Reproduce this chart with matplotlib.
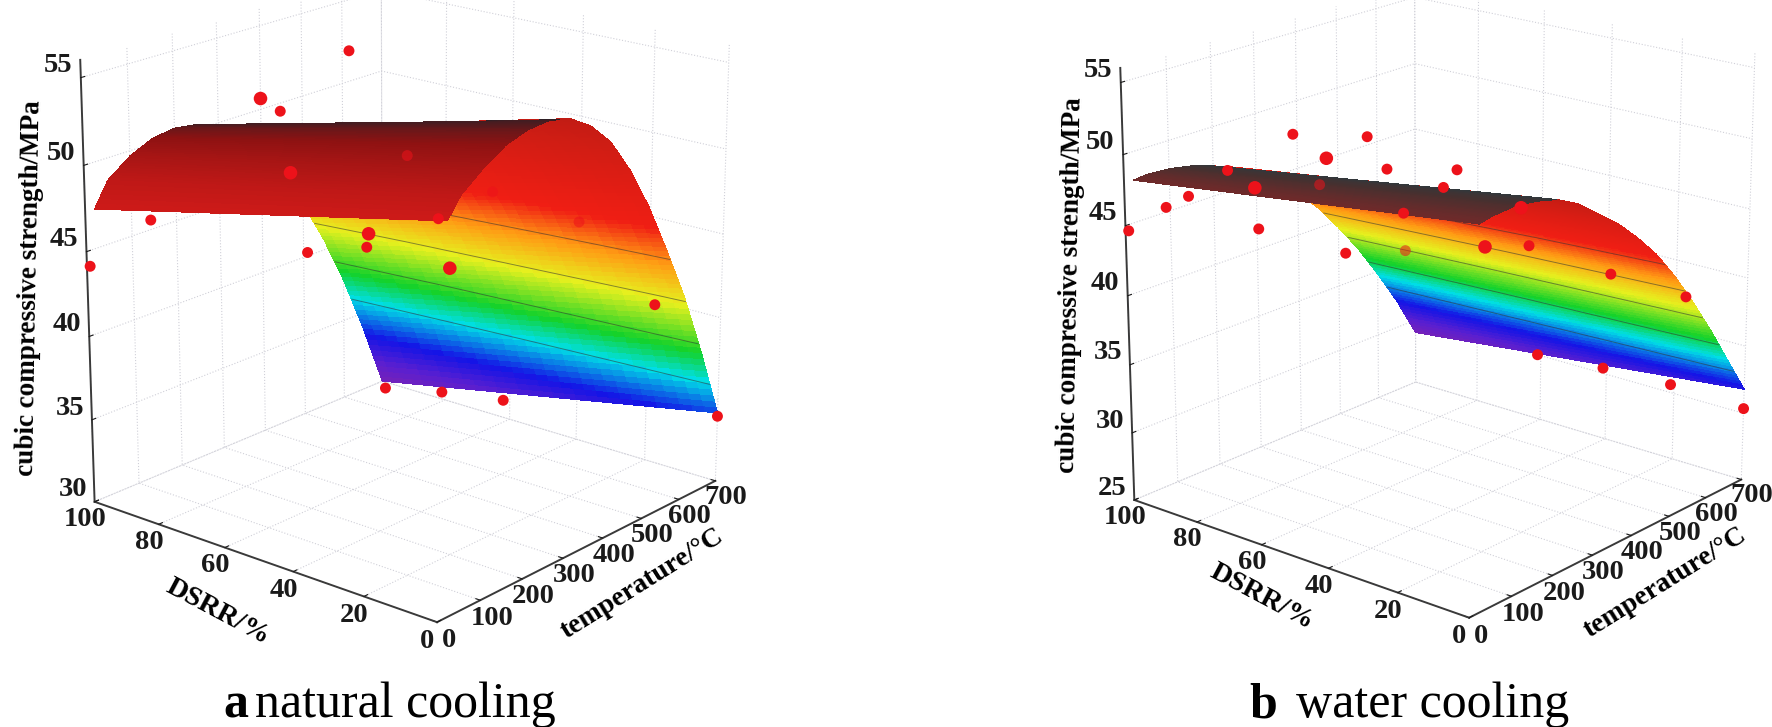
import numpy as np
import matplotlib
matplotlib.use('Agg')
import matplotlib.pyplot as plt
from matplotlib.colors import LinearSegmentedColormap, Normalize

### Data ###

temps = [20, 50, 100, 150, 200, 250, 300, 350, 400, 450, 500, 550, 600, 650, 700]

# surface read along the two DSRR edges
a_surf_d0 = [51.9, 53.0, 54.0, 54.8, 55.2, 55.3, 55.0, 54.2, 52.9, 50.9, 48.4, 45.4, 42.2, 38.4, 34.2]
a_surf_d100 = [47.3, 48.7, 49.7, 50.3, 50.5, 50.3, 49.7, 48.7, 47.3, 45.5, 43.3, 40.7, 37.6, 34.0, 30.0]
b_surf_d0 = [51.2, 51.4, 51.5, 51.3, 50.9, 50.1, 48.9, 47.7, 46.2, 44.5, 42.4, 40.0, 37.4, 34.6, 31.8]
b_surf_d100 = [48.0, 48.1, 48.0, 47.7, 47.2, 46.6, 45.8, 44.7, 43.2, 41.5, 39.5, 37.3, 34.8, 32.1, 29.0]

# measured points
a_t = [0, 0, 0, 400, 200, 400, 400, 600, 600, 400, 400, 600, 200, 400, 600, 700, 700, 700, 700]
a_d = [99, 80, 0, 100, 68, 91, 73, 80, 92, 68, 86, 67, 9, 8, 8, 99, 81, 62, 0]
a_s = [44.2, 47.9, 52.2, 50.65, 53.0, 46.6, 54.7, 46.5, 41.0, 43.3, 42.0, 40.2, 51.4, 48.0, 41.3, 29.6, 30.45, 31.1, 34.0]

b_t = [0, 0, 0, 0, 0, 200, 200, 200, 400, 400, 400, 400, 400, 600, 400, 400, 600, 300, 400, 400, 600, 700, 700, 700, 700]
b_d = [99, 87, 80, 68, 60, 86, 75, 65, 93, 85, 78, 72, 67, 91, 55, 51, 66, 21, 30, 7, 7, 61, 41, 21, 0]
b_s = [44.7, 47.1, 48.3, 50.8, 50.1, 43.5, 50.9, 49.8, 44.2, 39.6, 48.6, 46.6, 43.7, 37.2, 46.3, 47.8, 39.1, 48.0, 43.7, 43.2, 39.3, 30.0, 30.4, 30.6, 30.35]

### Style ###

plt.rcParams['font.family'] = ['Liberation Serif', 'DejaVu Serif']
plt.rcParams['font.weight'] = 'bold'
plt.rcParams['grid.color'] = '#d0d0d8'
plt.rcParams['grid.linestyle'] = ':'
plt.rcParams['grid.linewidth'] = 0.8

rainbow = LinearSegmentedColormap.from_list('rb', [
    (0.00, '#7a22b4'), (0.07, '#5a1fd0'), (0.15, '#1414e6'), (0.26, '#00dfe6'),
    (0.34, '#14d22a'), (0.47, '#e6f01e'), (0.58, '#ff9a14'), (0.68, '#f01e14'),
    (1.00, '#c01c14')])

W, H = 1772, 727
fig = plt.figure(figsize=(W / 100, H / 100), dpi=100)


def panel(center, size, surf0, surf100, pts, zlim, zticks, levels, top_end, top_colors, big, dim):
    x0 = (center[0] - size / 2) / W
    y0 = 1 - (center[1] + size / 2) / H
    ax = fig.add_axes([x0, y0, size / W, size / H], projection='3d', computed_zorder=False)
    ax.patch.set_alpha(0)
    ax.view_init(elev=19, azim=-140)
    ax.set_proj_type('persp', focal_length=0.82)
    ax.set_box_aspect((1, 1, 1.03))
    ax.set_xlim(0, 700, view_margin=0)
    ax.set_ylim(0, 100, view_margin=0)
    ax.set_zlim(zlim[0], zlim[1], view_margin=0)

    tf = np.linspace(20, 700, 137)
    df = np.linspace(0, 100, 31)
    z0 = np.interp(tf, temps, surf0)
    z1 = np.interp(tf, temps, surf100)
    X, Y = np.meshgrid(tf, df)
    Z = np.array([z0 + (z1 - z0) * d / 100 for d in df])

    norm = Normalize(min(surf100), max(surf0))
    fc = rainbow(norm(Z))
    # the far part is seen from below in rainbow, the arch top is the dark one
    top = LinearSegmentedColormap.from_list('top', top_colors)
    cut = np.searchsorted(tf, top_end)
    ax.plot_surface(X[:, cut:], Y[:, cut:], Z[:, cut:], facecolors=fc[:, cut:], rstride=1, cstride=1,
                    linewidth=0, antialiased=False, shade=False, zorder=2)
    ax.contour(X, Y, Z, levels=levels, colors='#333333', linewidths=0.7, alpha=0.55, zorder=3)
    fc_top = top((X[:, :cut + 1] - 20) / (top_end - 20))
    ax.plot_surface(X[:, :cut + 1], Y[:, :cut + 1], Z[:, :cut + 1], facecolors=fc_top, rstride=1, cstride=1,
                    linewidth=0, antialiased=False, shade=False, zorder=4)

    t, d, s = pts
    sizes = [95 if i in big else 62 for i in range(len(t))]
    cols = [(0.93, 0.07, 0.10, 0.55 if i in dim else 1.0) for i in range(len(t))]
    ax.scatter(t, d, s, c=cols, s=sizes, depthshade=False, linewidths=0, zorder=5)

    ax.set_xticks(range(0, 701, 100))
    ax.set_yticks(range(0, 101, 20))
    ax.set_zticks(zticks)
    for axis in (ax.xaxis, ax.yaxis, ax.zaxis):
        axis.set_pane_color((1, 1, 1, 0))
        axis.pane.set_edgecolor('#85858f')
        axis.pane.set_linewidth(1.1)
        axis.line.set_color('#3a3a3a')
        axis.line.set_linewidth(1.4)
        axis._axinfo['tick']['inward_factor'] = 0.0
        axis._axinfo['tick']['outward_factor'] = 0.15
        va = 'bottom' if axis is ax.zaxis else 'center'
        for tick in axis.get_major_ticks():
            tick.label1.set_verticalalignment(va)
    ax.tick_params(axis='both', labelsize=20.5, colors='#1a1a1a')
    ax.tick_params(axis='x', pad=1)
    ax.tick_params(axis='y', pad=1)
    ax.tick_params(axis='z', pad=2)
    return ax


panel((397, 287), 765, a_surf_d0, a_surf_d100, (a_t, a_d, a_s), (30, 56), range(30, 56, 5),
      [36.2, 39, 41.9, 44.8], 275, ['#cc1a18', '#8e1212', '#2a2026'], [3, 5, 8, 11], [7, 12, 13])
panel((1430, 290), 748, b_surf_d0, b_surf_d100, (b_t, b_d, b_s), (25, 56), range(25, 56, 5),
      [33.5, 36, 38.5, 41, 43.5], 200, ['#6e2a2a', '#47302f', '#30383c'], [4, 7, 16, 17], [8, 13])

### Labels ###

def label(x, y, s, rot, size=19.5):
    fig.text(x / W, 1 - y / H, s, rotation=rot, rotation_mode='anchor', ha='center', va='center',
             fontsize=size, fontweight='bold')

label(30, 288, 'cubic compressive strength/MPa', 89)
label(218, 612, 'DSRR/%', -28, 20.5)
label(642, 584, 'temperature/°C', 32, 20)
label(1071, 285, 'cubic compressive strength/MPa', 89)
label(1262, 597, 'DSRR/%', -28, 20.5)
label(1665, 583, 'temperature/°C', 32, 20)

fig.text(236 / W, 1 - 705 / H, 'a', fontsize=36, fontweight='bold', ha='center', va='center')
fig.text(405 / W, 1 - 705 / H, 'natural cooling', fontsize=36, fontweight='normal', ha='center', va='center')
fig.text(1263 / W, 1 - 705 / H, 'b', fontsize=36, fontweight='bold', ha='center', va='center')
fig.text(1433 / W, 1 - 705 / H, 'water cooling', fontsize=36, fontweight='normal', ha='center', va='center')

fig.savefig('out.png', dpi=100)
